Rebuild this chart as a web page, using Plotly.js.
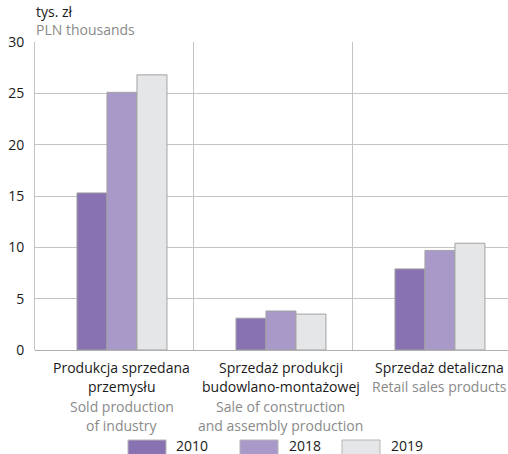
<!DOCTYPE html>
<html><head><meta charset="utf-8">
<script src="https://cdn.plot.ly/plotly-3.0.1.min.js"></script>
<style>body{margin:0;padding:0;background:#fff}#chart{width:508px;height:454px}</style>
</head><body><div id="chart"></div>
<script>
const categories = ["Produkcja sprzedana przemysłu", "Sprzedaż produkcji budowlano-montażowej", "Sprzedaż detaliczna"];
const labelsPL = [["Produkcja sprzedana", "przemysłu"], ["Sprzedaż produkcji", "budowlano-montażowej"], ["Sprzedaż detaliczna"]];
const labelsEN = [["Sold production", "of industry"], ["Sale of construction", "and assembly production"], ["Retail sales products"]];
const years = ["2010", "2018", "2019"];
const v2010 = [15.3, 3.1, 7.9];
const v2018 = [25.1, 3.8, 9.7];
const v2019 = [26.8, 3.5, 10.4];
const yTicks = [0, 5, 10, 15, 20, 25, 30];

const colors = ["#8872b2", "#a899c9", "#e5e6e8"];
const series = [v2010, v2018, v2019];
const FONT = "'Open Sans', sans-serif";
const FS = 14;

const W = 508, H = 454, ML = 35, MR = 0, MT = 42, MB = 104;
const PW = W - ML - MR, PH = H - MT - MB;
const px2x = p => (p - ML) / PW;
const py2y = p => (H - MB - p) / PH;

const traces = series.map((vals, i) => ({
  type: "bar", name: years[i], x: categories, y: vals,
  marker: {color: colors[i], line: {color: "#a3a3a3", width: 1}},
  hoverinfo: "skip"
}));

const annotations = [];
const lineH = 19.5;
categories.forEach((c, ci) => {
  const lines = labelsPL[ci].map(t => [t, "#1a1a1a"]).concat(labelsEN[ci].map(t => [t, "#8a8a8a"]));
  lines.forEach((ln, li) => {
    annotations.push({xref: "x", yref: "paper", x: ci, y: 0, yanchor: "middle", xanchor: "center",
      yshift: -(17 + li * lineH), text: ln[0], showarrow: false, borderpad: 0,
      font: {family: FONT, size: FS, color: ln[1]}});
  });
});
annotations.push({xref: "paper", yref: "paper", x: 0, y: 1, xanchor: "left", yanchor: "bottom", yshift: 20,
  text: "tys. zł", showarrow: false, borderpad: 0, font: {family: FONT, size: FS, color: "#1a1a1a"}});
annotations.push({xref: "paper", yref: "paper", x: 0, y: 1, xanchor: "left", yanchor: "bottom", yshift: 2,
  text: "PLN thousands", showarrow: false, borderpad: 0, font: {family: FONT, size: FS, color: "#8a8a8a"}});

const shapes = [0.45, 1.45].map(x => ({type: "line", xref: "x", yref: "paper", x0: x, x1: x, y0: 0, y1: 1,
  line: {color: "#c4c4c4", width: 1}}));
const legX = [[128, 166, 175], [240, 278, 288], [342, 380, 390]];
years.forEach((yr, i) => {
  shapes.push({type: "rect", xref: "paper", yref: "paper", x0: px2x(legX[i][0]), x1: px2x(legX[i][1]),
    y0: py2y(440), y1: py2y(458), fillcolor: colors[i], line: {color: "#b5b5b5", width: 1}});
  annotations.push({xref: "paper", yref: "paper", x: px2x(legX[i][2]), y: py2y(445), xanchor: "left", yanchor: "middle",
    text: yr, showarrow: false, borderpad: 0, font: {family: FONT, size: FS, color: "#1a1a1a"}});
});

const layout = {
  width: W, height: H,
  margin: {l: ML, r: MR, t: MT, b: MB, pad: 0},
  paper_bgcolor: "#fff", plot_bgcolor: "#fff",
  showlegend: false, barmode: "group", bargap: 0.434, bargroupgap: 0,
  font: {family: FONT, size: FS, color: "#1a1a1a"},
  xaxis: {type: "category", range: [-0.547, 2.428], showticklabels: false, showgrid: false,
    zeroline: false, showline: false, ticks: "", fixedrange: true},
  yaxis: {range: [0, 30], tickvals: yTicks, showgrid: true, gridcolor: "#c4c4c4", gridwidth: 1,
    zeroline: true, zerolinecolor: "#b0b0b0", zerolinewidth: 1,
    showline: true, linecolor: "#c4c4c4", linewidth: 1, ticks: "", ticklabelstandoff: 7,
    tickfont: {family: FONT, size: FS, color: "#1a1a1a"}, fixedrange: true},
  annotations: annotations, shapes: shapes
};
Plotly.newPlot("chart", traces, layout, {staticPlot: true, displayModeBar: false});
</script></body></html>
